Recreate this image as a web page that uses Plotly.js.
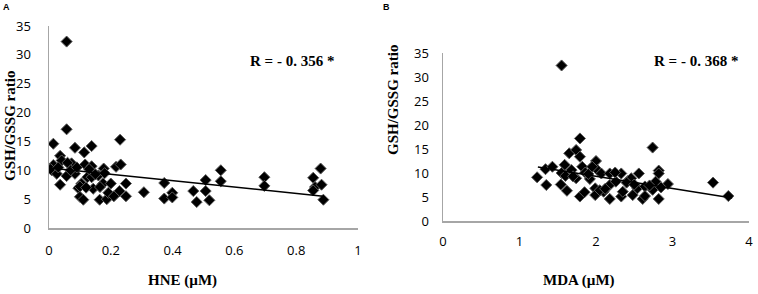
<!DOCTYPE html>
<html>
<head>
<meta charset="utf-8">
<script src="https://cdn.plot.ly/plotly-3.0.1.min.js"></script>
<style>html,body{margin:0;padding:0;background:#fff;}#chart{width:758px;height:294px;}</style>
</head>
<body>
<div id="chart"></div>
<script>
// Panel A: HNE (µM) vs GSH/GSSG ratio
const hneX = [0.057,0.057,0.014,0.084,0.114,0.138,0.23,0.014,0.036,0.041,0.009,0.025,0.036,0.057,0.073,0.084,0.095,0.10,0.111,0.117,0.124,0.105,0.138,0.138,0.143,0.16,0.164,0.177,0.175,0.187,0.192,0.20,0.217,0.232,0.228,0.249,0.249,0.307,0.373,0.373,0.399,0.399,0.467,0.478,0.507,0.507,0.519,0.556,0.556,0.697,0.697,0.855,0.861,0.855,0.879,0.882,0.888,0.005,0.03,0.06,0.07,0.09,0.10,0.12,0.13,0.15,0.165,0.18,0.21];
const hneY = [32.3,17.1,14.6,13.9,13.1,14.2,15.3,10.9,12.5,11.7,10.0,9.4,7.5,9.0,11.2,9.4,6.9,5.4,4.9,11.0,8.8,7.7,10.7,8.8,6.8,9.1,4.9,10.3,7.7,5.0,6.1,7.7,10.6,11.0,6.4,7.7,5.5,6.2,7.8,5.1,6.1,5.3,6.4,4.5,8.3,6.4,4.8,10.0,8.1,8.8,7.3,8.7,7.1,6.5,10.3,7.5,4.9,10.2,10.5,11.3,10.0,10.5,7.2,7.0,10.2,9.3,7.1,9.5,5.5];
const trendAX = [0.003, 0.887];
const trendAY = [10.4, 5.5];

// Panel B: MDA (µM) vs GSH/GSSG ratio
const mdaX = [1.55,1.79,1.65,1.74,1.79,2.74,1.23,1.34,1.43,1.35,1.54,1.62,1.59,1.68,1.74,1.82,1.86,1.79,1.85,1.92,1.99,2.0,2.02,1.99,2.07,2.1,2.18,2.18,2.18,2.26,2.33,2.33,2.35,2.42,2.46,2.48,2.54,2.56,2.61,2.64,2.64,2.74,2.78,2.82,2.82,2.82,2.94,3.53,3.73,1.55,1.6,1.7,1.9,1.95,2.05,2.12,2.25,2.4,2.5,2.7,2.85];
const mdaY = [32.4,17.2,14.1,14.8,13.4,15.3,9.1,10.8,11.3,7.5,7.6,6.3,11.7,10.6,8.9,11.3,10.1,5.1,6.0,8.75,6.8,12.5,10.6,5.4,9.9,6.1,9.9,7.5,4.6,8.2,9.9,5.1,6.1,8.4,8.9,5.4,6.8,9.9,4.6,7.2,5.2,6.5,8.2,10.5,9.9,4.6,7.7,8.0,5.2,10.0,9.4,9.3,9.8,11.3,6.4,6.7,10.1,8.0,7.6,7.4,7.0];
const trendBX = [1.24, 3.78];
const trendBY = [11.25, 4.8];

const xTicksA = [0,0.2,0.4,0.6,0.8,1];
const xTicksB = [0,1,2,3,4];
const yTicks = [0,5,10,15,20,25,30,35];

const marker = {symbol:'diamond', size:8.5, color:'#000', line:{color:'#5a5a5a', width:1}};
const tickFont = {family:'Open Sans, sans-serif', size:13, color:'#000'};
const titleFont = {family:'Liberation Serif, serif', size:15, color:'#000', weight:'bold'};

const data = [
  {x:hneX, y:hneY, type:'scatter', mode:'markers', marker:marker, xaxis:'x', yaxis:'y', hoverinfo:'skip'},
  {x:trendAX, y:trendAY, type:'scatter', mode:'lines', line:{color:'#000', width:1.5}, xaxis:'x', yaxis:'y', hoverinfo:'skip'},
  {x:mdaX, y:mdaY, type:'scatter', mode:'markers', marker:marker, xaxis:'x2', yaxis:'y2', hoverinfo:'skip'},
  {x:trendBX, y:trendBY, type:'scatter', mode:'lines', line:{color:'#000', width:1.5}, xaxis:'x2', yaxis:'y2', hoverinfo:'skip'}
];

const axBase = {showline:true, linecolor:'#a6a6a6', linewidth:1.5, showgrid:false, zeroline:false, ticks:'', tickfont:tickFont, fixedrange:true, ticklabeloverflow:'allow'};

const layout = {
  width:758, height:294,
  margin:{l:0,r:0,t:0,b:0},
  paper_bgcolor:'#fff', plot_bgcolor:'#fff',
  showlegend:false,
  xaxis: Object.assign({}, axBase, {domain:[49/758, 358/758], range:[0,1], tickvals:xTicksA, ticktext:xTicksA.map(String), ticklabelstandoff:10, anchor:'y'}),
  yaxis: Object.assign({}, axBase, {domain:[66/294, 268/294], range:[0,35], tickvals:yTicks, ticklabelstandoff:14, anchor:'x'}),
  xaxis2: Object.assign({}, axBase, {domain:[443/758, 749/758], range:[0,4], tickvals:xTicksB, ticklabelstandoff:8, anchor:'y2'}),
  yaxis2: Object.assign({}, axBase, {domain:[73/294, 241/294], range:[0,35], tickvals:yTicks, ticklabelstandoff:10, anchor:'x2'}),
  annotations:[
    {text:'A', xref:'paper', yref:'paper', x:6/758, y:1-7/294, xanchor:'center', yanchor:'middle', showarrow:false, font:{family:'Liberation Sans, sans-serif', size:9, color:'#000', weight:'bold'}},
    {text:'B', xref:'paper', yref:'paper', x:386/758, y:1-7/294, xanchor:'center', yanchor:'middle', showarrow:false, font:{family:'Liberation Sans, sans-serif', size:9, color:'#000', weight:'bold'}},
    {text:'R = - 0. 356 *', xref:'paper', yref:'paper', x:248/758, y:1-61/294, xanchor:'left', yanchor:'middle', showarrow:false, font:{family:'Liberation Serif, serif', size:15, color:'#000', weight:'bold'}},
    {text:'R = - 0. 368 *', xref:'paper', yref:'paper', x:652/758, y:1-61/294, xanchor:'left', yanchor:'middle', showarrow:false, font:{family:'Liberation Serif, serif', size:15, color:'#000', weight:'bold'}},
    {text:'GSH/GSSG ratio', xref:'paper', yref:'paper', x:10/758, y:1-126/294, xanchor:'center', yanchor:'middle', textangle:-90, showarrow:false, font:titleFont},
    {text:'GSH/GSSG ratio', xref:'paper', yref:'paper', x:393/758, y:1-100/294, xanchor:'center', yanchor:'middle', textangle:-90, showarrow:false, font:titleFont},
    {text:'HNE (µM)', xref:'paper', yref:'paper', x:182/758, y:1-280/294, xanchor:'center', yanchor:'middle', showarrow:false, font:titleFont},
    {text:'MDA (µM)', xref:'paper', yref:'paper', x:579/758, y:1-280/294, xanchor:'center', yanchor:'middle', showarrow:false, font:titleFont}
  ]
};

Plotly.newPlot('chart', data, layout, {staticPlot:true, displayModeBar:false});
</script>
</body>
</html>
